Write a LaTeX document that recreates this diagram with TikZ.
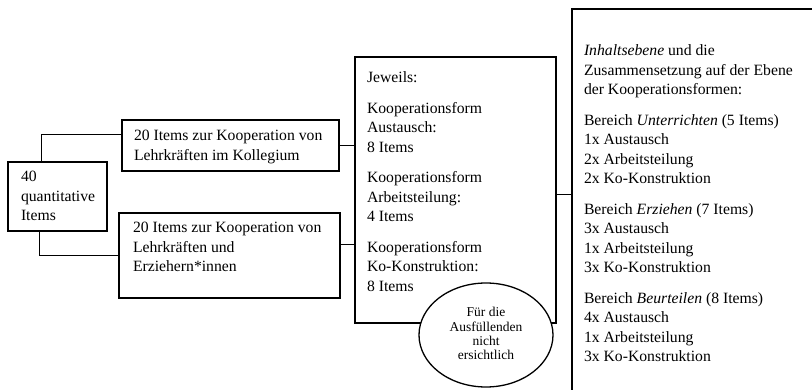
\documentclass[tikz,border=0pt]{standalone}
\usepackage{fontspec}
\setmainfont{Liberation Serif}
\usetikzlibrary{calc,shapes.geometric}
\newcommand{\bodyfnt}{\fontsize{15.7}{19.5}\selectfont}
\newcommand{\smallfnt}{\fontsize{13.5}{14.3}\selectfont}
\begin{document}
\begin{tikzpicture}[x=1pt,y=-1pt,
  box/.style={draw, line width=1.3pt, inner sep=0pt, outer sep=0pt, anchor=north west},
  conn/.style={line width=0.8pt},
  txt/.style={anchor=base west, inner sep=0pt, outer sep=0pt},
  etxt/.style={anchor=base, inner sep=0pt, outer sep=0pt}]
\useasboundingbox (0,0) rectangle (812,390);
\clip (0,0) rectangle (812,390);
\fill[white] (0,0) rectangle (812,390);

% boxes
\node[box, minimum width=99pt, minimum height=69pt] (L) at (8,162) {};
\node[box, minimum width=217pt, minimum height=51pt] (B1) at (122,120) {};
\node[box, minimum width=221pt, minimum height=85pt] (B2) at (119,213) {};
\node[box, minimum width=201pt, minimum height=266pt] (J) at (355,57) {};
\node[box, minimum width=300pt, minimum height=420pt] (R) at (572,9) {};
\node[ellipse, draw, fill=white, line width=1.3pt, inner sep=0pt, outer sep=0pt,
      minimum width=134pt, minimum height=104pt] (E) at (486,335) {};

% texts
\node[txt] (tL) at (21,182) {\parbox[t]{90pt}{\bodyfnt 40\\quantitative\\Items}};
\node[txt] (tB1) at (134,141) {\parbox[t]{210pt}{\bodyfnt 20 Items zur Kooperation von\\Lehrkräften im Kollegium}};
\node[txt] (tB2) at (133,233) {\parbox[t]{210pt}{\bodyfnt 20 Items zur Kooperation von\\Lehrkräften und\\Erziehern*innen}};
\node[txt] (tJ) at (367,83) {\parbox[t]{185pt}{\bodyfnt Jeweils:\\[11pt]
Kooperationsform\\Austausch:\\8 Items\\[11pt]
Kooperationsform\\Arbeitsteilung:\\4 Items\\[11pt]
Kooperationsform\\Ko-Konstruktion:\\8 Items}};
\node[txt] (tR) at (584,56) {\parbox[t]{225pt}{\bodyfnt \textit{Inhaltsebene} und die\\Zusammensetzung auf der Ebene\\der Kooperationsformen:\\[11pt]
Bereich \textit{Unterrichten} (5 Items)\\1x Austausch\\2x Arbeitsteilung\\2x Ko-Konstruktion\\[11pt]
Bereich \textit{Erziehen} (7 Items)\\3x Austausch\\1x Arbeitsteilung\\3x Ko-Konstruktion\\[11pt]
Bereich \textit{Beurteilen} (8 Items)\\4x Austausch\\1x Arbeitsteilung\\3x Ko-Konstruktion}};
\node[etxt] (tE) at (486,317) {\parbox[t]{110pt}{\centering\smallfnt Für die\\Ausfüllenden\\nicht\\ersichtlich}};

% connectors
\draw[conn] ($(L.north west)+(33,0)$) |- ($(B1.north west)+(0,14)$);
\draw[conn] ($(L.south west)+(31,0)$) |- ($(B2.north west)+(0,42)$);
\draw[conn] (B1.east) -- (B1.east -| J.west);
\draw[conn] ($(B2.north east)+(0,31)$) coordinate (c2) -- (c2 -| J.west);
\draw[conn] ($(J.north east)+(0,137)$) coordinate (c3) -- (c3 -| R.west);
\end{tikzpicture}
\end{document}
